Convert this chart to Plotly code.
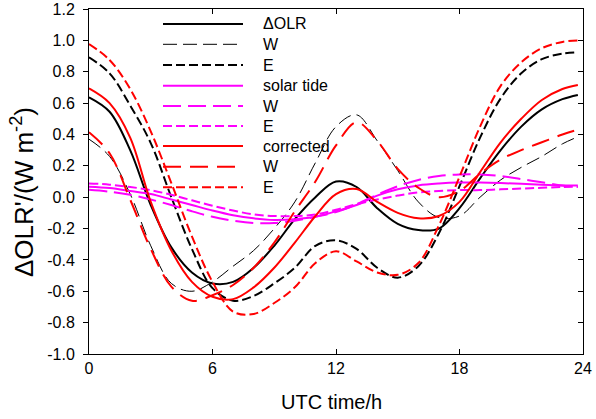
import plotly.graph_objects as go

# ---------------- data ----------------
hours = [0, 1, 2, 3, 4, 5, 6, 7, 8, 9, 10, 11, 12, 13, 14, 15, 16, 17, 18, 19, 20, 21, 22, 23, 23.75]

dolr = [0.637, 0.545, 0.30, -0.05, -0.32, -0.48, -0.55, -0.54, -0.45, -0.31, -0.14, 0.0, 0.10, 0.065,
        -0.07, -0.17, -0.21, -0.20, -0.07, 0.12, 0.30, 0.45, 0.56, 0.625, 0.652]
dolr_w = [0.37, 0.26, 0.02, -0.31, -0.55, -0.60, -0.54, -0.44, -0.34, -0.20, -0.03, 0.22, 0.45, 0.525,
          0.36, 0.17, -0.03, -0.13, -0.12, 0.0, 0.11, 0.19, 0.26, 0.34, 0.385]
dolr_e = [0.892, 0.79, 0.585, 0.345, 0.0, -0.33, -0.58, -0.66, -0.63, -0.55, -0.45, -0.31, -0.275, -0.33,
          -0.45, -0.513, -0.44, -0.23, 0.07, 0.38, 0.63, 0.79, 0.88, 0.915, 0.924]

tide = [0.067, 0.058, 0.04, 0.02, -0.015, -0.05, -0.085, -0.115, -0.135, -0.145, -0.14, -0.125, -0.09, -0.05,
        0.01, 0.05, 0.075, 0.087, 0.093, 0.093, 0.09, 0.085, 0.08, 0.075, 0.074]
tide_w = [0.047, 0.035, 0.015, -0.015, -0.05, -0.09, -0.125, -0.15, -0.165, -0.165, -0.15, -0.125, -0.095, -0.045,
          0.015, 0.07, 0.11, 0.135, 0.145, 0.145, 0.135, 0.115, 0.095, 0.075, 0.065]
tide_e = [0.088, 0.08, 0.065, 0.045, 0.015, -0.02, -0.055, -0.085, -0.11, -0.12, -0.12, -0.11, -0.08, -0.045,
          -0.015, 0.01, 0.03, 0.04, 0.045, 0.045, 0.05, 0.055, 0.06, 0.065, 0.068]

corr = [0.694, 0.60, 0.38, -0.03, -0.34, -0.54, -0.635, -0.65, -0.575, -0.45, -0.29, -0.12, 0.02, 0.052,
        -0.03, -0.10, -0.135, -0.12, -0.03, 0.16, 0.35, 0.50, 0.62, 0.69, 0.716]
corr_w = [0.414, 0.28, -0.015, -0.33, -0.57, -0.66, -0.625, -0.56, -0.45, -0.29, -0.09, 0.10, 0.33, 0.478,
          0.36, 0.18, 0.06, 0.0, 0.04, 0.15, 0.24, 0.30, 0.35, 0.40, 0.43]
corr_e = [0.977, 0.875, 0.69, 0.42, 0.09, -0.25, -0.54, -0.73, -0.745, -0.675, -0.575, -0.42, -0.345, -0.41,
          -0.48, -0.495, -0.42, -0.18, 0.13, 0.45, 0.71, 0.86, 0.95, 0.99, 1.0]

series_names = ["\u0394OLR", "W", "E", "solar tide", "W", "E", "corrected", "W", "E"]

x_ticks = [0, 6, 12, 18, 24]
x_ticktext = ["0", "6", "12", "18", "24"]
y_ticks = [-1.0, -0.8, -0.6, -0.4, -0.2, 0.0, 0.2, 0.4, 0.6, 0.8, 1.0, 1.2]
y_ticktext = ["-1.0", "-0.8", "-0.6", "-0.4", "-0.2", "0.0", "0.2", "0.4", "0.6", "0.8", "1.0", "1.2"]

# ---------------- styling ----------------
W, H = 596, 419
PL, PR, PT, PB = 89, 583, 9, 354   # plot area in pixels
FONT = "Liberation Sans, Arial, Helvetica, sans-serif"

def fx(px):
    return (px - PL) / (PR - PL)

def fy(py):
    return (PB - py) / (PB - PT)

MAG = "#ff00ff"
styles = [
    dict(color="black", width=2, dash="solid"),
    dict(color="black", width=1, dash="14px,6px"),
    dict(color="black", width=2, dash="9px,4px"),
    dict(color=MAG, width=2, dash="solid"),
    dict(color=MAG, width=2, dash="18px,7px"),
    dict(color=MAG, width=2, dash="9px,4px"),
    dict(color="red", width=2, dash="solid"),
    dict(color="red", width=2, dash="18px,9px"),
    dict(color="red", width=2, dash="9px,4px"),
]
values = [dolr, dolr_w, dolr_e, tide, tide_w, tide_e, corr, corr_w, corr_e]

fig = go.Figure()
for name, ys, st in zip(series_names, values, styles):
    fig.add_trace(go.Scatter(x=hours, y=ys, mode="lines", name=name, showlegend=False,
                             line=dict(shape="spline", smoothing=1.0, **st)))
# empty trace to instantiate the mirrored right axis
fig.add_trace(go.Scatter(x=[], y=[], yaxis="y2", showlegend=False, hoverinfo="skip"))

# manual legend (long sample lines like the reference)
legend_rows = [24, 44.3, 65, 85.7, 106, 126, 146, 166.7, 187.3]
shapes = []
annotations = []
for name, st, ry in zip(series_names, styles, legend_rows):
    shapes.append(dict(type="line", xref="paper", yref="paper",
                       x0=fx(163), x1=fx(243), y0=fy(ry), y1=fy(ry),
                       line=dict(color=st["color"], width=st["width"], dash=st["dash"])))
    annotations.append(dict(text=name, xref="paper", yref="paper", x=fx(261), y=fy(ry),
                            xanchor="left", yanchor="middle", showarrow=False,
                            font=dict(family=FONT, size=16, color="black")))

# axis titles
annotations.append(dict(text="\u0394OLR'/(W m<sup>-2</sup>)", xref="paper", yref="paper",
                        x=fx(22), y=fy(192), xanchor="center", yanchor="middle", textangle=-90,
                        showarrow=False, font=dict(family=FONT, size=26, color="black")))
annotations.append(dict(text="UTC time/h", xref="paper", yref="paper",
                        x=fx(331), y=fy(402), xanchor="center", yanchor="middle",
                        showarrow=False, font=dict(family=FONT, size=20, color="black")))

axis_common = dict(showgrid=False, zeroline=False, showline=True, linecolor="black", linewidth=1,
                   tickcolor="black", tickwidth=1, ticklen=5, automargin=False,
                   tickfont=dict(family=FONT, size=16, color="black"))

fig.update_layout(
    width=W, height=H,
    margin=dict(l=PL, r=W - PR, t=PT, b=H - PB, pad=0),
    paper_bgcolor="white", plot_bgcolor="white",
    showlegend=False,
    xaxis=dict(range=[0, 24], tickmode="array", tickvals=x_ticks, ticktext=x_ticktext,
               ticks="inside", mirror="ticks", **axis_common),
    yaxis=dict(range=[-1.0, 1.2], tickmode="array", tickvals=y_ticks, ticktext=y_ticktext,
               ticks="outside", mirror=False, ticklabelstandoff=5, **axis_common),
    yaxis2=dict(range=[-1.0, 1.2], overlaying="y", side="right", tickmode="array", tickvals=y_ticks,
                ticks="inside", showticklabels=False, **axis_common),
    shapes=shapes,
    annotations=annotations,
)

fig.write_html("out.html", config={"displayModeBar": False},
               post_script="document.body.style.margin='0';document.body.style.overflow='hidden';")
